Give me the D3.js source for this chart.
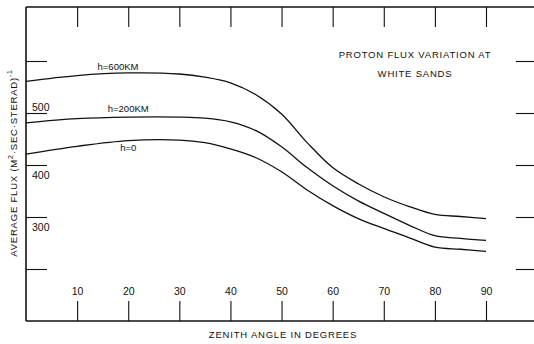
<!DOCTYPE html>
<html>
<head>
<meta charset="utf-8">
<script src="https://cdn.jsdelivr.net/npm/d3@7"></script>
<style>
  body { margin: 0; background: #fff; }
  text { font-family: "Liberation Sans", Arial, sans-serif; fill: #111; }
</style>
</head>
<body>
<svg id="chart" width="534" height="344"></svg>
<script>
// zenith angle (degrees)
var angles = [0, 10, 20, 30, 35, 40, 45, 50, 55, 60, 65, 70, 75, 80, 85, 90];
// average flux for each altitude
var flux600 = [561, 572, 577, 575, 569, 558, 535, 498, 443, 395, 364, 339, 320, 305, 301, 297];
var flux200 = [481, 489, 492, 492, 490, 483, 466, 435, 395, 360, 331, 307, 284, 264, 259, 255];
var flux0   = [421, 436, 447, 448, 443, 431, 414, 387, 352, 322, 297, 278, 260, 242, 238, 234];
var seriesLabels = ["h=600KM", "h=200KM", "h=0"];
var xTicks = [10, 20, 30, 40, 50, 60, 70, 80, 90];
var yTicks = [600, 500, 400, 300, 200];
var yTickLabels = {500: "500", 400: "400", 300: "300"};

var svg = d3.select('#chart');
var W = 534;

var x = d3.scaleLinear().domain([0, 90]).range([26, 486]);
var y = d3.scaleLinear().domain([500, 300]).range([113, 217]);

var ink = '#111';

// frame: left, top, bottom
svg.append('line').attr('x1', 26).attr('x2', 26).attr('y1', 7).attr('y2', 321)
    .attr('stroke', ink).attr('stroke-width', 1.6);
svg.append('line').attr('x1', 26).attr('x2', W).attr('y1', 7).attr('y2', 7)
    .attr('stroke', ink).attr('stroke-width', 1.4);
svg.append('line').attr('x1', 26).attr('x2', W).attr('y1', 321).attr('y2', 321)
    .attr('stroke', ink).attr('stroke-width', 1.4);

// x ticks, bottom (with labels) and top
var xb = svg.append('g').attr('transform', 'translate(0,321)')
    .call(d3.axisBottom(x).tickValues(xTicks).tickSize(-20).tickFormat(d3.format('d')));
xb.select('.domain').remove();
xb.selectAll('line').attr('stroke', ink).attr('stroke-width', 1.1);
xb.selectAll('text').attr('y', -30).attr('dy', '0.35em').attr('fill', ink)
    .style('font-size', '10.5px').style('font-family', '"Liberation Sans", Arial, sans-serif');

var xt = svg.append('g').attr('transform', 'translate(0,7)')
    .call(d3.axisTop(x).tickValues(xTicks).tickSize(-20).tickFormat(''));
xt.select('.domain').remove();
xt.selectAll('line').attr('stroke', ink).attr('stroke-width', 1.1);

// y ticks, left and right
var yl = svg.append('g').attr('transform', 'translate(26,0)')
    .call(d3.axisLeft(y).tickValues(yTicks).tickSize(-21).tickFormat(''));
yl.select('.domain').remove();
yl.selectAll('line').attr('stroke', ink).attr('stroke-width', 1.1);

var yr = svg.append('g').attr('transform', 'translate(516,0)')
    .call(d3.axisRight(y).tickValues(yTicks).tickSize(18).tickFormat(''));
yr.select('.domain').remove();
yr.selectAll('line').attr('stroke', ink).attr('stroke-width', 1.1);

// y tick labels (500 above tick, others below)
svg.selectAll('.ylab')
    .data(yTicks.filter(function(d) { return yTickLabels[d]; }))
    .enter().append('text')
    .attr('class', 'ylab')
    .attr('x', 32)
    .attr('y', function(d) { return d === 500 ? y(d) - 2 : y(d) + 14; })
    .style('font-size', '10.5px')
    .text(function(d) { return yTickLabels[d]; });

// curves
var line = d3.line()
    .x(function(d) { return x(d[0]); })
    .y(function(d) { return y(d[1]); })
    .curve(d3.curveCatmullRom.alpha(0.5));

[flux600, flux200, flux0].forEach(function(vals) {
    svg.append('path')
        .datum(angles.map(function(a, i) { return [a, vals[i]]; }))
        .attr('d', line)
        .attr('fill', 'none')
        .attr('stroke', ink)
        .attr('stroke-width', 1.3);
});

// curve labels
var labelPos = [[18, 582], [20, 502], [20, 426]];
svg.selectAll('.clab')
    .data(seriesLabels)
    .enter().append('text')
    .attr('class', 'clab')
    .attr('x', function(d, i) { return x(labelPos[i][0]); })
    .attr('y', function(d, i) { return y(labelPos[i][1]); })
    .attr('text-anchor', 'middle')
    .style('font-size', '9.5px')
    .text(function(d) { return d; });

// title
var title = svg.append('text').attr('text-anchor', 'middle')
    .style('font-size', '9.5px').style('letter-spacing', '0.8px');
title.append('tspan').attr('x', 415).attr('y', 58).text('PROTON  FLUX  VARIATION  AT');
title.append('tspan').attr('x', 415).attr('y', 77).text('WHITE  SANDS');

// axis titles
svg.append('text')
    .attr('x', 283).attr('y', 338)
    .attr('text-anchor', 'middle')
    .style('font-size', '9.5px').style('letter-spacing', '0.8px')
    .text('ZENITH  ANGLE  IN  DEGREES');

var yt = svg.append('text')
    .attr('transform', 'translate(17,163) rotate(-90)')
    .attr('text-anchor', 'middle')
    .style('font-size', '9.5px').style('letter-spacing', '0.8px');
yt.append('tspan').text('AVERAGE  FLUX (M');
yt.append('tspan').attr('dy', -4).style('font-size', '7px').text('2');
yt.append('tspan').attr('dy', 4).text('·SEC·STERAD)');
yt.append('tspan').attr('dy', -5).style('font-size', '7px').text('-1');
</script>
</body>
</html>
